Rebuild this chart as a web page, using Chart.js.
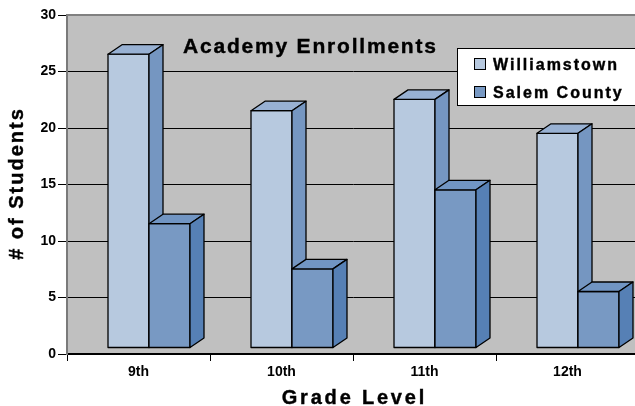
<!DOCTYPE html>
<html lang="en">
<head>
<meta charset="UTF-8">
<title>Academy Enrollments</title>
<script src="https://cdn.jsdelivr.net/npm/chart.js@4.4.0/dist/chart.umd.min.js"></script>
<style>
    html, body { margin: 0; padding: 0; background: #fff; }
    #wrap { width: 635px; height: 406px; overflow: hidden; }
</style>
</head>
<body>
<div id="wrap">
    <canvas id="canvas" width="640" height="406"></canvas>
</div>
<script>
    var GRADES = ['9th', '10th', '11th', '12th'];
    var WILLIAMSTOWN = [26, 21, 22, 19];
    var SALEM_COUNTY = [11, 7, 14, 5];
    var Y_TICKS = [0, 5, 10, 15, 20, 25, 30];

    var FONT = "'Liberation Sans', Arial, sans-serif";

    // face colours: front, top, side
    var COLORS = [
        { front: '#b7c9df', top: '#98b1d3', side: '#7596c1' },
        { front: '#7899c3', top: '#7195c3', side: '#5680b5' }
    ];

    // oblique projection used for the fake 3D boxes
    var FRONT_DX = 10.5, FRONT_DY = -6;
    var DEPTH_DX = 14, DEPTH_DY = -9.5;

    function drawBox(ctx, x0, x1, yTop, yBot, c) {
        ctx.lineWidth = 1.3;
        ctx.strokeStyle = '#000';
        ctx.lineJoin = 'round';

        ctx.beginPath();
        ctx.rect(x0, yTop, x1 - x0, yBot - yTop);
        ctx.fillStyle = c.front;
        ctx.fill();
        ctx.stroke();

        ctx.beginPath();
        ctx.moveTo(x0, yTop);
        ctx.lineTo(x0 + DEPTH_DX, yTop + DEPTH_DY);
        ctx.lineTo(x1 + DEPTH_DX, yTop + DEPTH_DY);
        ctx.lineTo(x1, yTop);
        ctx.closePath();
        ctx.fillStyle = c.top;
        ctx.fill();
        ctx.stroke();

        ctx.beginPath();
        ctx.moveTo(x1, yTop);
        ctx.lineTo(x1 + DEPTH_DX, yTop + DEPTH_DY);
        ctx.lineTo(x1 + DEPTH_DX, yBot + DEPTH_DY);
        ctx.lineTo(x1, yBot);
        ctx.closePath();
        ctx.fillStyle = c.side;
        ctx.fill();
        ctx.stroke();
    }

    var wallPlugin = {
        id: 'wall',
        beforeDraw: function(chart) {
            var ctx = chart.ctx, a = chart.chartArea;
            ctx.save();
            ctx.fillStyle = '#c0c0c0';
            ctx.fillRect(a.left, a.top, a.right - a.left, a.bottom - a.top);
            ctx.restore();
        },
        beforeDatasetsDraw: function(chart) {
            var ctx = chart.ctx, a = chart.chartArea;
            ctx.save();
            ctx.strokeStyle = '#808080';
            ctx.lineWidth = 2;
            ctx.beginPath();
            ctx.moveTo(a.left, a.top);
            ctx.lineTo(a.right, a.top);
            ctx.stroke();
            ctx.restore();
        }
    };

    var bars3dPlugin = {
        id: 'bars3d',
        afterDatasetsDraw: function(chart) {
            var ctx = chart.ctx;
            ctx.save();
            chart.data.datasets.forEach(function(ds, i) {
                chart.getDatasetMeta(i).data.forEach(function(el) {
                    var p = el.getProps(['x', 'y', 'base', 'width'], true);
                    var x0 = p.x - p.width / 2 + FRONT_DX;
                    var x1 = p.x + p.width / 2 + FRONT_DX;
                    drawBox(ctx, x0, x1, p.y + FRONT_DY, p.base + FRONT_DY, COLORS[i]);
                });
            });
            ctx.restore();
        }
    };

    // heavier text: fill plus a hairline stroke, with letter spacing
    function spacedText(ctx, text, x, y, font, spacing, align) {
        ctx.font = font;
        ctx.letterSpacing = spacing + 'px';
        var w = ctx.measureText(text).width - spacing;
        var sx = x;
        if (align === 'center') sx = x - w / 2;
        ctx.textAlign = 'left';
        ctx.fillText(text, sx, y);
        ctx.lineWidth = 0.4;
        ctx.strokeStyle = ctx.fillStyle;
        ctx.strokeText(text, sx, y);
    }

    var labelsPlugin = {
        id: 'labels',
        afterDraw: function(chart) {
            var ctx = chart.ctx, a = chart.chartArea;
            ctx.save();
            ctx.fillStyle = '#000';
            ctx.textBaseline = 'alphabetic';

            // title sits inside the plot
            spacedText(ctx, 'Academy Enrollments', 183, 53, 'bold 21px ' + FONT, 1.8, 'left');

            // axis titles
            spacedText(ctx, 'Grade Level', (a.left + a.right) / 2, 404, 'bold 20px ' + FONT, 2.8, 'center');
            ctx.save();
            ctx.translate(23, (a.top + a.bottom) / 2);
            ctx.rotate(-Math.PI / 2);
            spacedText(ctx, '# of Students', 0, 0, 'bold 20px ' + FONT, 2, 'center');
            ctx.restore();

            // legend
            ctx.fillStyle = '#fff';
            ctx.strokeStyle = '#000';
            ctx.lineWidth = 1;
            ctx.fillRect(457.5, 48.5, 190, 57);
            ctx.strokeRect(457.5, 48.5, 190, 57);
            chart.data.datasets.forEach(function(ds, i) {
                var y = 58.5 + i * 28;
                ctx.fillStyle = COLORS[i].front;
                ctx.fillRect(474.5, y, 11, 11);
                ctx.strokeStyle = '#000';
                ctx.lineWidth = 1;
                ctx.strokeRect(474.5, y, 11, 11);
                ctx.fillStyle = '#000';
                spacedText(ctx, ds.label, 493, y + 11, 'bold 16px ' + FONT, 2, 'left');
            });
            ctx.restore();
        }
    };

    window.onload = function() {
        var ctx = document.getElementById('canvas').getContext('2d');
        window.myBar = new Chart(ctx, {
            type: 'bar',
            data: {
                labels: GRADES,
                datasets: [{
                    label: 'Williamstown',
                    data: WILLIAMSTOWN,
                    backgroundColor: 'rgba(0,0,0,0)',
                    borderWidth: 0
                }, {
                    label: 'Salem County',
                    data: SALEM_COUNTY,
                    backgroundColor: 'rgba(0,0,0,0)',
                    borderWidth: 0
                }]
            },
            plugins: [wallPlugin, bars3dPlugin, labelsPlugin],
            options: {
                responsive: false,
                animation: false,
                layout: { padding: { top: 15, right: 1, left: 0, bottom: 0 } },
                datasets: {
                    bar: { barPercentage: 1, categoryPercentage: 0.5734 }
                },
                plugins: {
                    legend: { display: false },
                    title: { display: false },
                    tooltip: { enabled: false }
                },
                scales: {
                    x: {
                        offset: true,
                        grid: {
                            offset: true,
                            drawOnChartArea: false,
                            drawTicks: true,
                            tickLength: 7,
                            tickColor: '#000',
                            lineWidth: 1
                        },
                        border: { display: true, color: '#000', width: 2 },
                        ticks: {
                            color: '#000',
                            padding: 3,
                            font: { family: FONT, size: 14, weight: 'bold' }
                        },
                        afterFit: function(s) { s.height = 52; }
                    },
                    y: {
                        min: 0,
                        max: 30,
                        afterBuildTicks: function(s) {
                            s.ticks = Y_TICKS.map(function(v) { return { value: v }; });
                        },
                        grid: {
                            color: '#000',
                            tickColor: '#000',
                            tickLength: 9,
                            lineWidth: 1
                        },
                        border: { display: true, color: '#7a7a7a', width: 2 },
                        ticks: {
                            color: '#000',
                            padding: 2,
                            font: { family: FONT, size: 14, weight: 'bold' }
                        },
                        afterFit: function(s) { s.width = 67; }
                    }
                }
            }
        });
    };
</script>
</body>
</html>
